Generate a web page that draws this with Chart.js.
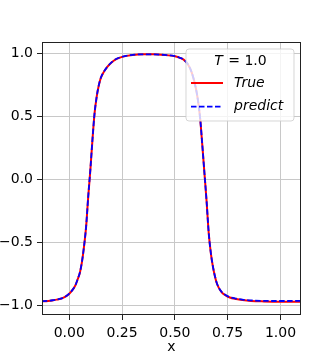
<!DOCTYPE html>
<html><head><meta charset="utf-8">
<script src="https://cdn.jsdelivr.net/npm/chart.js@4.4.1/dist/chart.umd.min.js"></script>
<style>html,body{margin:0;padding:0;background:#fff}#c{display:block}</style>
</head><body>
<canvas id="c" width="335" height="355"></canvas>
<script>
const xValues=[-0.13,-0.10,-0.08,-0.06,-0.04,-0.02,0.00,0.02,0.03,0.04,0.05,0.06,0.07,0.08,0.09,0.10,0.11,0.12,0.13,0.14,0.15,0.16,0.18,0.20,0.22,0.25,0.30,0.35,0.40,0.45,0.50,0.52,0.54,0.56,0.58,0.60,0.61,0.62,0.63,0.64,0.65,0.66,0.67,0.68,0.69,0.70,0.72,0.74,0.76,0.79,0.82,0.86,0.92,1.00,1.10];
const trueValues=[-0.965,-0.962,-0.958,-0.952,-0.945,-0.930,-0.905,-0.865,-0.835,-0.790,-0.740,-0.655,-0.530,-0.370,-0.130,0.080,0.320,0.530,0.660,0.750,0.810,0.845,0.895,0.930,0.955,0.975,0.990,0.995,0.995,0.990,0.980,0.970,0.955,0.920,0.850,0.720,0.620,0.480,0.270,0.050,-0.170,-0.420,-0.580,-0.690,-0.770,-0.830,-0.890,-0.918,-0.935,-0.947,-0.955,-0.962,-0.966,-0.968,-0.968];
const predictValues=[-0.964,-0.961,-0.957,-0.951,-0.944,-0.929,-0.904,-0.864,-0.834,-0.789,-0.738,-0.653,-0.528,-0.368,-0.128,0.082,0.322,0.531,0.661,0.751,0.811,0.846,0.896,0.931,0.956,0.976,0.991,0.995,0.995,0.990,0.980,0.970,0.955,0.920,0.850,0.721,0.621,0.481,0.271,0.051,-0.168,-0.418,-0.578,-0.688,-0.768,-0.828,-0.888,-0.915,-0.932,-0.944,-0.952,-0.958,-0.962,-0.963,-0.962];
const xTicks=[0,0.25,0.5,0.75,1.0];
const yTicks=[-1,-0.5,0,0.5,1];
const seriesLabels=['True','predict'];
const legendTitle=['T',' = 1.0'];
const xTitle='x';

const FONT='"DejaVu Sans", sans-serif';
const pts=(ys)=>xValues.map((x,i)=>({x:x,y:ys[i]}));
const fmt=(v,d)=>{const s=Number(v).toFixed(d);return s.replace('-','\u2212');};

const framePlugin={id:'frame',afterDatasetsDraw(chart){
  const a=chart.chartArea,ctx=chart.ctx;
  ctx.save();ctx.strokeStyle='#222';ctx.lineWidth=1;
  ctx.strokeRect(Math.round(a.left)+0.5,Math.round(a.top)+0.5,Math.round(a.right-a.left)-1,Math.round(a.bottom-a.top)-1);
  ctx.restore();
  // legend
  const w=108,h=72,r=3;
  const bx=a.right-7-w,by=a.top+7;
  ctx.save();
  ctx.beginPath();
  ctx.moveTo(bx+r,by);ctx.lineTo(bx+w-r,by);ctx.quadraticCurveTo(bx+w,by,bx+w,by+r);
  ctx.lineTo(bx+w,by+h-r);ctx.quadraticCurveTo(bx+w,by+h,bx+w-r,by+h);
  ctx.lineTo(bx+r,by+h);ctx.quadraticCurveTo(bx,by+h,bx,by+h-r);
  ctx.lineTo(bx,by+r);ctx.quadraticCurveTo(bx,by,bx+r,by);ctx.closePath();
  ctx.fillStyle='rgba(255,255,255,0.8)';ctx.fill();
  ctx.strokeStyle='rgba(204,204,204,0.8)';ctx.lineWidth=1;ctx.stroke();
  // title
  ctx.fillStyle='#000';ctx.textBaseline='middle';
  const fi='italic 14px '+FONT,fn='14px '+FONT;
  ctx.font=fi;const w1=ctx.measureText(legendTitle[0]).width;
  ctx.font=fn;const w2=ctx.measureText(legendTitle[1]).width;
  const tx=bx+w/2-(w1+w2)/2,ty=by+12.5;
  ctx.font=fi;ctx.textAlign='left';ctx.fillText(legendTitle[0],tx,ty);
  ctx.font=fn;ctx.fillText(legendTitle[1],tx+w1+1,ty);
  // entries
  const ds=chart.data.datasets;
  const ys=[by+34,by+57.7];
  ds.forEach((d,i)=>{
    ctx.save();
    ctx.strokeStyle=d.borderColor;ctx.lineWidth=d.borderWidth;ctx.setLineDash(d.borderDash||[]);
    ctx.beginPath();ctx.moveTo(bx+5,ys[i]);ctx.lineTo(bx+37,ys[i]);ctx.stroke();
    ctx.restore();
    ctx.font=fi;ctx.fillStyle='#000';ctx.textAlign='left';ctx.textBaseline='middle';
    ctx.fillText(d.label,bx+48,ys[i]);
  });
  ctx.restore();
}};

new Chart(document.getElementById('c'),{
  type:'line',
  data:{datasets:[
    {label:seriesLabels[0],data:pts(trueValues),borderColor:'#ff0000',borderWidth:2,pointRadius:0,fill:false,cubicInterpolationMode:'monotone',order:2},
    {label:seriesLabels[1],data:pts(predictValues),borderColor:'#0000ff',borderWidth:1.8,borderDash:[5.5,2.5],pointRadius:0,fill:false,cubicInterpolationMode:'monotone',order:1}
  ]},
  options:{
    responsive:false,animation:false,devicePixelRatio:1,
    layout:{padding:{top:42,right:34,left:0,bottom:0}},
    plugins:{legend:{display:false},tooltip:{enabled:false}},
    scales:{
      x:{type:'linear',min:-0.129,max:1.097,
        afterBuildTicks:(s)=>{s.ticks=xTicks.map(v=>({value:v}));},
        afterFit:(s)=>{s.height=40;},
        ticks:{font:{family:FONT,size:14},color:'#000',padding:5,maxRotation:0,callback:(v)=>fmt(v,2)},
        grid:{color:'#c8c8c8',lineWidth:1,tickColor:'#222',tickLength:5,drawTicks:true},
        border:{display:false},
        title:{display:true,text:xTitle,font:{family:FONT,size:14},color:'#000',padding:{top:0,bottom:-1}}
      },
      y:{type:'linear',min:-1.074,max:1.093,
        afterBuildTicks:(s)=>{s.ticks=yTicks.map(v=>({value:v}));},
        afterFit:(s)=>{s.width=42;},
        ticks:{font:{family:FONT,size:14},color:'#000',padding:4,callback:(v)=>fmt(v,1)},
        grid:{color:'#c8c8c8',lineWidth:1,tickColor:'#222',tickLength:5,drawTicks:true},
        border:{display:false}
      }
    }
  },
  plugins:[framePlugin]
});
</script>
</body></html>
